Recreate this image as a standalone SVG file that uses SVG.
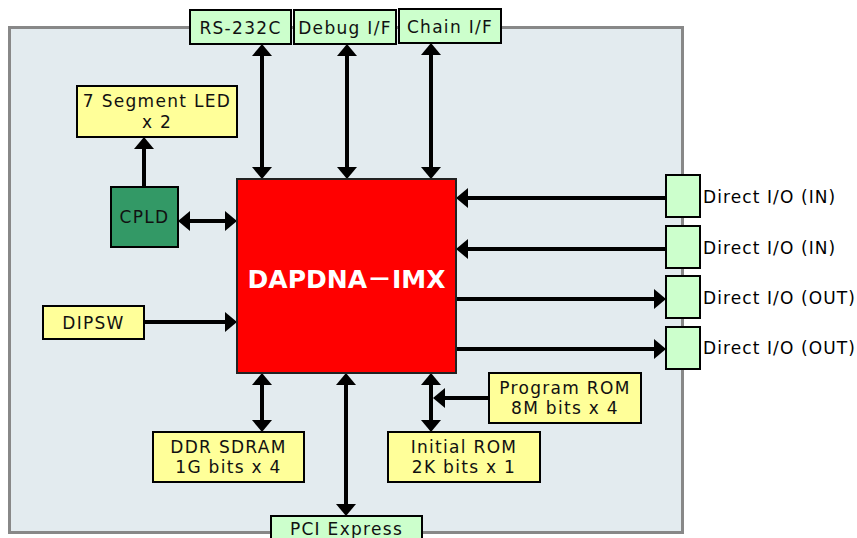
<svg xmlns="http://www.w3.org/2000/svg" width="857" height="538" viewBox="0 0 857 538">
<defs>
<marker id="ah" markerUnits="userSpaceOnUse" markerWidth="13" markerHeight="20" refX="0" refY="10" orient="auto-start-reverse" overflow="visible">
<path d="M0,0 L12,10 L0,20 Z" fill="#000"/>
</marker>
</defs>
<style>
.board{fill:#E3EBEF;stroke:#888;stroke-width:3}
.g{fill:#CCFFCC;stroke:#000;stroke-width:2}
.y{fill:#FFFF99;stroke:#000;stroke-width:2}
.cpld{fill:#339966;stroke:#000;stroke-width:2}
.chip{fill:#FF0000;stroke:#222;stroke-width:2}
.t{font-family:"DejaVu Sans",Verdana,sans-serif;font-size:17px;fill:#111;text-anchor:middle;letter-spacing:1.3px}
.tl{font-family:"DejaVu Sans",Verdana,sans-serif;font-size:17px;fill:#000;letter-spacing:1.1px}
.big{font-family:"DejaVu Sans",Verdana,"Noto Sans CJK JP",sans-serif;font-size:25px;font-weight:bold;fill:#fff;text-anchor:middle}
.c line{stroke:#000;stroke-width:4;fill:none}
.bi{marker-start:url(#ah);marker-end:url(#ah)}
.one{marker-end:url(#ah)}
</style>
<rect class="board" x="9.5" y="27.5" width="673" height="505"/>

<g class="c" id="connectors">
<line class="bi" x1="262" y1="56" x2="262" y2="167"/>
<line class="bi" x1="347" y1="56" x2="347" y2="167"/>
<line class="bi" x1="431" y1="55" x2="431" y2="167"/>
<line class="bi" x1="190" y1="221" x2="225" y2="221"/>
<line class="one" x1="144" y1="187" x2="144" y2="149"/>
<line class="one" x1="144" y1="322" x2="225" y2="322"/>
<line class="one" x1="666" y1="198" x2="468" y2="198"/>
<line class="one" x1="666" y1="249" x2="468" y2="249"/>
<line class="one" x1="456" y1="299" x2="654" y2="299"/>
<line class="one" x1="456" y1="349" x2="654" y2="349"/>
<line class="bi" x1="262" y1="385" x2="262" y2="420"/>
<line class="bi" x1="431" y1="385" x2="431" y2="420"/>
<line class="bi" x1="346" y1="385" x2="346" y2="504"/>
<line class="one" x1="489" y1="398" x2="445" y2="398"/>
</g>

<g id="rs232c"><rect class="g" x="190" y="10" width="101" height="34"/><text class="t" x="240.5" y="34">RS-232C</text></g>
<g id="debug"><rect class="g" x="294" y="10" width="102" height="34"/><text class="t" x="345" y="34">Debug I/F</text></g>
<g id="chain"><rect class="g" x="399" y="9" width="102" height="34"/><text class="t" x="450" y="33">Chain I/F</text></g>

<g id="led"><rect class="y" x="77" y="86" width="160" height="51"/><text class="t" x="157" y="107">7 Segment LED</text><text class="t" x="157" y="128">x 2</text></g>
<g id="cpld"><rect class="cpld" x="111" y="187" width="67" height="60"/><text class="t" x="144.5" y="223">CPLD</text></g>
<g id="dipsw"><rect class="y" x="43" y="306" width="101" height="33"/><text class="t" x="93.5" y="329">DIPSW</text></g>

<g id="chip"><rect class="chip" x="237" y="179" width="219" height="194"/><text class="big" x="346.5" y="288">DAPDNA－IMX</text></g>

<g id="dio1"><rect class="g" x="666" y="175" width="34" height="42"/><text class="tl" x="703" y="203">Direct I/O (IN)</text></g>
<g id="dio2"><rect class="g" x="666" y="226" width="34" height="42"/><text class="tl" x="703" y="254">Direct I/O (IN)</text></g>
<g id="dio3"><rect class="g" x="666" y="276" width="34" height="42"/><text class="tl" x="703" y="304">Direct I/O (OUT)</text></g>
<g id="dio4"><rect class="g" x="666" y="327" width="34" height="42"/><text class="tl" x="703" y="354">Direct I/O (OUT)</text></g>

<g id="ddr"><rect class="y" x="153" y="432" width="151" height="50"/><text class="t" x="228.5" y="453">DDR SDRAM</text><text class="t" x="228.5" y="473">1G bits x 4</text></g>
<g id="initrom"><rect class="y" x="388" y="432" width="152" height="50"/><text class="t" x="464" y="453">Initial ROM</text><text class="t" x="464" y="473">2K bits x 1</text></g>
<g id="progrom"><rect class="y" x="489" y="373" width="152" height="50"/><text class="t" x="565" y="394">Program ROM</text><text class="t" x="565" y="414">8M bits x 4</text></g>
<g id="pci"><rect class="g" x="271" y="516" width="151" height="30"/><text class="t" x="346.5" y="535">PCI Express</text></g>
</svg>
